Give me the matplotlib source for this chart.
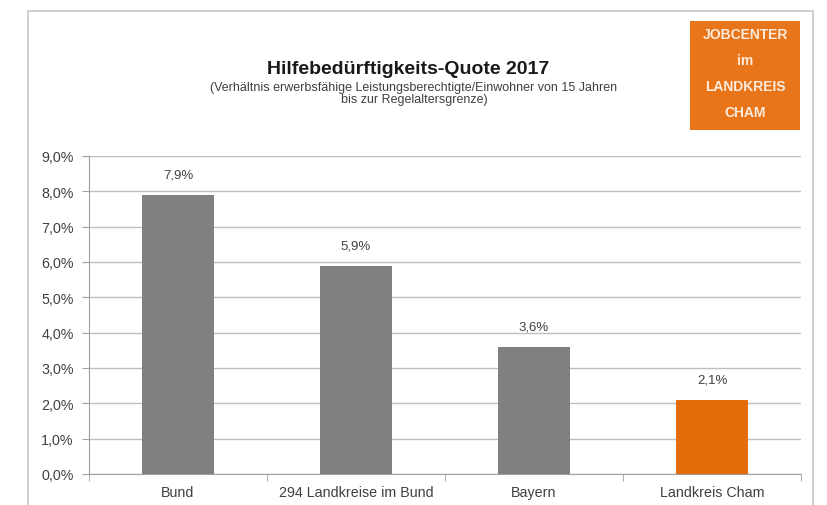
import matplotlib
matplotlib.use("Agg")
import matplotlib.pyplot as plt
from matplotlib.patches import Rectangle

categories = ["Bund", "294 Landkreise im Bund", "Bayern", "Landkreis Cham"]
values = [7.9, 5.9, 3.6, 2.1]
bar_colors = ["#808080", "#808080", "#808080", "#E46C0A"]
yticks = [0, 1, 2, 3, 4, 5, 6, 7, 8, 9]
ytick_labels = ["0,0%", "1,0%", "2,0%", "3,0%", "4,0%", "5,0%", "6,0%", "7,0%", "8,0%", "9,0%"]
value_labels = ["7,9%", "5,9%", "3,6%", "2,1%"]

plt.rcParams['font.family'] = ['Liberation Sans', 'DejaVu Sans']

W, H = 827, 506
fig = plt.figure(figsize=(W / 100, H / 100), dpi=100)
fig.patch.set_facecolor("white")

# outer chart border
fig.add_artist(Rectangle((28 / W, -0.01), (813 - 28) / W, 1 - 12 / H + 0.01,
                         transform=fig.transFigure, fill=False,
                         edgecolor="#C8C8C8", linewidth=1.2))

ax = fig.add_axes([89 / W, 1 - 475 / H, (801 - 89) / W, (475 - 157) / H])
x = list(range(len(categories)))
ax.bar(x, values, width=0.4, color=bar_colors, zorder=3)
ax.set_xlim(-0.5, len(categories) - 0.5)
ax.set_ylim(0, 9)
ax.set_yticks(yticks)
ax.set_yticklabels(ytick_labels, fontsize=10.3, color="#404040")
ax.set_xticks(x)
ax.set_xticklabels(categories, fontsize=10.3, color="#404040")
ax.tick_params(axis="x", length=0, pad=8)
ax.tick_params(axis="y", length=5, color="#A0A0A0", pad=6)
ax.set_xticks([i + 0.5 for i in range(-1, len(categories))], minor=True)
ax.tick_params(axis="x", which="minor", length=5, color="#A0A0A0")
ax.grid(axis="y", color="#BFBFBF", linewidth=1, zorder=0)
for s in ["top", "right"]:
    ax.spines[s].set_visible(False)
ax.spines["left"].set_color("#A0A0A0")
ax.spines["bottom"].set_color("#A0A0A0")

for xi, v, lab in zip(x, values, value_labels):
    ax.annotate(lab, (xi, v), xytext=(0, 10), textcoords="offset points",
                ha="center", va="bottom", fontsize=9.5, color="#404040")

fig.text(408 / W, 1 - 69 / H, "Hilfebedürftigkeits-Quote 2017", ha="center", va="center",
         fontsize=14, fontweight="bold", color="#1a1a1a")
fig.text(414 / W, 1 - 94 / H,
         "(Verhältnis erwerbsfähige Leistungsberechtigte/Einwohner von 15 Jahren\nbis zur Regelaltersgrenze)",
         ha="center", va="center", fontsize=9, color="#404040", linespacing=1.05)

# logo box
fig.add_artist(Rectangle((690 / W, 1 - 131 / H), 110 / W, 109 / H,
                         transform=fig.transFigure, facecolor="#E8751A",
                         edgecolor="none"))
for i, t in enumerate(["JOBCENTER", "im", "LANDKREIS", "CHAM"]):
    fig.text(745 / W, 1 - (35 + i * 26) / H, t, ha="center", va="center",
             fontsize=10, fontweight="bold", color="#FDEBDD")

fig.savefig("out.png", dpi=100)
